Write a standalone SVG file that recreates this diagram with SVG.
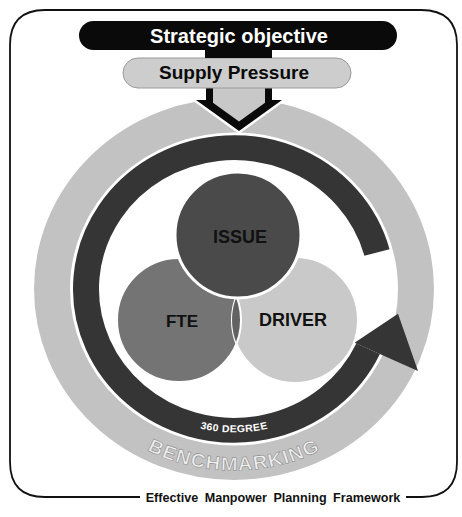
<svg xmlns="http://www.w3.org/2000/svg" width="462" height="517" viewBox="0 0 462 517">
<style>
.b{font-family:"Liberation Sans",Arial,sans-serif;font-weight:bold}
.wh{stroke:#fff}
</style>
<defs>
<clipPath id="clipDriver"><circle cx="295" cy="320" r="63"/></clipPath>
<path id="benchPath" d="M-172.2,80.3 A190,190 0 0 0 172.2,80.3"/>
<path id="degPath" d="M-75,130 A150,150 0 0 0 75,130"/>
</defs>
<rect width="462" height="517" fill="#fff"/>

<g id="frame" fill="none" stroke="#111" stroke-width="1.8">
<path d="M140,497 L45,497 Q10,497 10,462 L10,45 Q10,10 45,10 L421,10 Q457,10 457,45 L457,462 Q457,497 422,497 L406,497"/>
</g>
<text class="b" x="273" y="502" font-size="12.6" word-spacing="3" text-anchor="middle" fill="#111">Effective Manpower Planning Framework</text>

<g id="benchmarking" transform="translate(234,289) scale(1,0.955)">
<circle r="182" fill="none" stroke="#c2c2c2" stroke-width="36"/>
<text class="b" font-size="20" letter-spacing="1.2" fill="#eeeeee" stroke="#8a8a8a" stroke-width="0.6"><textPath href="#benchPath" startOffset="50%" text-anchor="middle">BENCHMARKING</textPath></text>
</g>

<g id="cycle-arrow" transform="translate(234,289) scale(1,0.955)">
<path d="M142.96,-38.31 A148,148 0 1 0 134.13,62.55" fill="none" stroke="#353535" stroke-width="26"/>
<polygon points="120.5,56.2 164,26 184,85.8" fill="#353535"/>
<text class="b" font-size="10.5" letter-spacing="0.4" fill="#fff"><textPath href="#degPath" startOffset="50%" text-anchor="middle">360 DEGREE</textPath></text>
</g>

<g id="fte">
<circle cx="179" cy="320" r="62" fill="#747474" class="wh" stroke-width="2"/>
<text class="b" x="182" y="327" font-size="17" text-anchor="middle" fill="#111">FTE</text>
</g>
<g id="driver">
<circle cx="295" cy="320" r="63" fill="#c9c9c9" class="wh" stroke-width="2"/>
<circle cx="179" cy="320" r="62" fill="#626262" class="wh" stroke-width="2" clip-path="url(#clipDriver)"/>
<text class="b" x="293" y="326" font-size="18" text-anchor="middle" fill="#111">DRIVER</text>
</g>
<g id="issue">
<circle cx="238" cy="235" r="63" fill="#4a4a4a" class="wh" stroke-width="3"/>
<text class="b" x="240" y="243" font-size="18" text-anchor="middle" fill="#111">ISSUE</text>
</g>

<g id="connectors">
<polygon points="206,80 206,100 196,100 239,131 282,100 272,100 272,80" fill="#0a0a0a" stroke="#fff" stroke-width="5" stroke-linejoin="miter"/>
<polygon points="206,80 206,100 196,100 239,131 282,100 272,100 272,80" fill="#0a0a0a"/>
<polygon points="213,80 213,102.8 239,121.5 265,102.8 265,80" fill="#c8c8c8"/>
</g>

<g id="supply-pressure">
<rect x="123" y="58" width="228" height="30" rx="15" fill="#cdcdcd" stroke="#9a9a9a" stroke-width="1"/>
<text class="b" x="234" y="79" font-size="19" text-anchor="middle" fill="#0a0a0a">Supply Pressure</text>
</g>

<g id="strategic-objective">
<rect x="205" y="44" width="67" height="14" fill="#0a0a0a"/>
<rect x="79" y="21" width="318" height="29" rx="14.5" fill="#0a0a0a"/>
<text class="b" x="239" y="43" font-size="20" text-anchor="middle" fill="#fff">Strategic objective</text>
</g>
</svg>
